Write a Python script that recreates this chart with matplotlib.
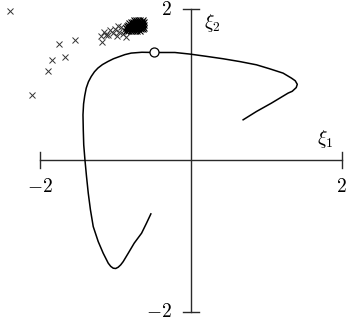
import numpy as np
import matplotlib
matplotlib.use("Agg")
import matplotlib.pyplot as plt

plt.rcParams['mathtext.fontset'] = 'cm'

# trajectory in the (xi_1, xi_2) plane
curve_x = [-0.530, -0.589, -0.653, -0.751, -0.830, -0.897, -0.930, -0.963, -0.996,
           -1.029, -1.062, -1.095, -1.162, -1.228, -1.294, -1.331, -1.360, -1.384,
           -1.404, -1.420, -1.426, -1.430, -1.422, -1.407, -1.387, -1.358, -1.321,
           -1.278, -1.232, -1.172, -1.099, -1.026, -0.944, -0.874, -0.791, -0.649,
           -0.490, -0.212, -0.013, 0.199, 0.428, 0.649, 0.870, 1.046, 1.223,
           1.334, 1.384, 1.411, 1.397, 1.344, 1.289, 1.179, 1.069, 0.870, 0.693]
curve_y = [-0.708, -0.833, -0.963, -1.095, -1.228, -1.339, -1.382, -1.413, -1.430,
           -1.426, -1.402, -1.360, -1.228, -1.074, -0.876, -0.655, -0.434, -0.205,
           0.007, 0.205, 0.403, 0.602, 0.747, 0.853, 0.955, 1.038, 1.108,
           1.171, 1.220, 1.266, 1.307, 1.343, 1.373, 1.398, 1.418, 1.429,
           1.426, 1.426, 1.405, 1.376, 1.343, 1.306, 1.263, 1.210, 1.153,
           1.087, 1.052, 1.005, 0.962, 0.913, 0.889, 0.823, 0.757, 0.646, 0.536]

# marked point on the trajectory
mark_x, mark_y = -0.49, 1.43

# sampled iterates: early scattered ones
samp_x = [-2.40, -2.11, -1.90, -1.84, -1.67, -1.75, -1.53, -1.18, -1.12,
          -1.19, -1.15, -1.10, -1.07, -1.03, -1.00, -0.98, -0.95, -0.93,
          -0.90, -0.88, -0.86, -0.96]
samp_y = [1.97, 0.87, 1.18, 1.33, 1.36, 1.54, 1.59, 1.57, 1.66,
          1.64, 1.70, 1.66, 1.72, 1.68, 1.74, 1.65, 1.70, 1.76,
          1.67, 1.72, 1.63, 1.78]

# late iterates piled up near the limit point
clus_x = [-0.86, -0.83, -0.80, -0.77, -0.74, -0.71, -0.68,
          -0.845, -0.815, -0.785, -0.755, -0.725, -0.695, -0.665, -0.64,
          -0.86, -0.83, -0.80, -0.77, -0.74, -0.71, -0.68, -0.65, -0.625,
          -0.845, -0.815, -0.785, -0.755, -0.725, -0.695, -0.665, -0.635,
          -0.83, -0.80, -0.77, -0.74, -0.71, -0.68, -0.65, -0.62,
          -0.815, -0.785, -0.755, -0.725, -0.695, -0.665, -0.635,
          -0.80, -0.77, -0.74, -0.71, -0.68, -0.65, -0.625,
          -0.76, -0.73, -0.70, -0.67, -0.64]
clus_y = [1.71] * 7 + [1.73] * 8 + [1.75] * 9 + [1.77] * 8 + \
         [1.79] * 8 + [1.81] * 7 + [1.83] * 7 + [1.85] * 5

fig = plt.figure(figsize=(3.47, 3.29), dpi=100)
ax = fig.add_axes([0, 0, 1, 1])
ax.set_xlim(-2.53, 2.07)
ax.set_ylim(-2.23, 2.12)
ax.axis('off')

ac = '#2a2a2a'
t = 0.106
ax.plot([-2, 2], [0, 0], color=ac, lw=1.0)
ax.plot([0, 0], [-2, 2], color=ac, lw=1.0)
for v in (-2, 2):
    ax.plot([v, v], [-t, t], color=ac, lw=1.0)
    ax.plot([-t, t], [v, v], color=ac, lw=1.0)

fs = 14
ax.text(-2, -0.35, '$-2$', ha='center', va='center', fontsize=fs)
ax.text(2, -0.35, '$2$', ha='center', va='center', fontsize=fs)
ax.text(-0.25, 2, '$2$', ha='right', va='center', fontsize=fs)
ax.text(-0.25, -2, '$-2$', ha='right', va='center', fontsize=fs)
ax.text(1.775, 0.284, r'$\xi_1$', ha='center', va='center', fontsize=fs)
ax.text(0.278, 1.82, r'$\xi_2$', ha='center', va='center', fontsize=fs)

ax.plot(curve_x, curve_y, color='black', lw=1.1)
ax.plot(samp_x, samp_y, 'x', color='#333333', ms=5, mew=0.7)
ax.plot(clus_x, clus_y, 'x', color='black', ms=5, mew=0.8)
ax.plot(mark_x, mark_y, 'o', mfc='white', mec='black', ms=6.5, mew=0.9)

fig.savefig('out.png', dpi=100)
